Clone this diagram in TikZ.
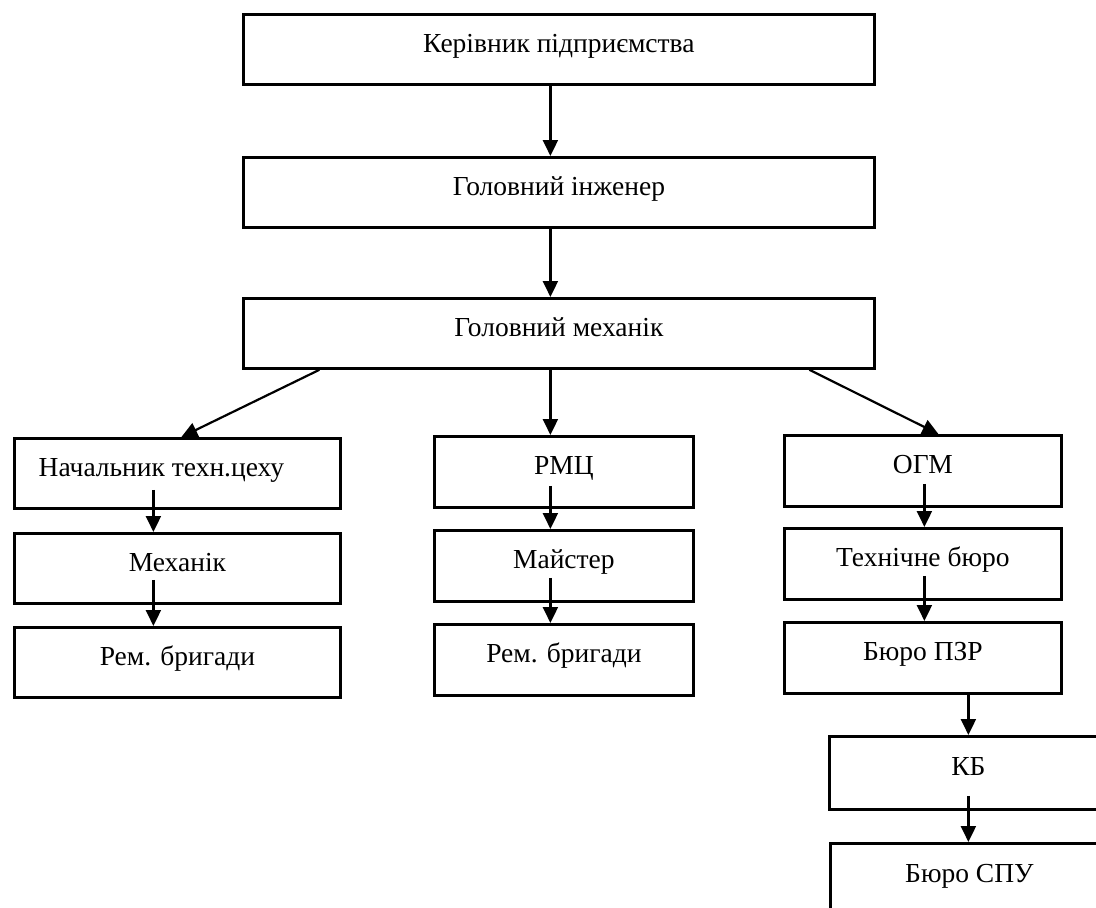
\documentclass[tikz,border=0pt]{standalone}
\usepackage{fontspec}
\setmainfont{Liberation Serif}
\usetikzlibrary{arrows.meta}
\begin{document}
\begin{tikzpicture}[x=1pt,y=-1pt,
  box/.style={draw=black,line width=2.8pt,rectangle,inner sep=0pt,anchor=north west,
    font=\fontsize{27.5}{30}\selectfont,text height=12pt,text depth=6pt},
  wide/.style={minimum width=631pt,minimum height=70pt},
  lcol/.style={minimum width=326pt,minimum height=70pt},
  mcol/.style={minimum width=259pt,minimum height=71pt},
  rcol/.style={minimum width=277pt,minimum height=71pt},
  arr/.style={line width=2.2pt,-{Triangle[length=16pt,width=15pt]}}]
\useasboundingbox (0,0) rectangle (1096,908);
\fill[white] (0,0) rectangle (1096,908);
\clip (0,0) rectangle (1096,908);
% top chain
\node[box,wide] (A) at (242,13) {Керівник підприємства};
\node[box,wide] (B) at (242,156) {Головний інженер};
\node[box,wide] (C) at (242,297) {Головний механік};
% left column
\node[box,lcol] (N1) at (13,437) {Начальник техн.цеху\hspace*{32pt}};
\node[box,lcol] (N2) at (13,532) {Механік};
\node[box,lcol] (N3) at (13,626) {Рем. бригади};
% middle column
\node[box,mcol] (M1) at (433,435) {РМЦ};
\node[box,mcol] (M2) at (433,529) {Майстер};
\node[box,mcol] (M3) at (433,623) {Рем. бригади};
% right column
\node[box,rcol] (R1) at (783,434) {ОГМ};
\node[box,rcol] (R2) at (783,527) {Технічне бюро};
\node[box,rcol] (R3) at (783,621) {Бюро ПЗР};
\node[box,minimum width=278pt,minimum height=73pt] (K) at (828,735) {КБ};
\node[box,minimum width=278pt,minimum height=73pt] (S) at (829,842) {Бюро СПУ};
% connectors
\draw[arr] ([xshift=-8.5pt]A.south) -- ([xshift=-8.5pt]B.north);
\draw[arr] ([xshift=-8.5pt]B.south) -- ([xshift=-8.5pt]C.north);
\draw[arr] ([xshift=-8.5pt]C.south) -- ([xshift=-13.5pt]M1.north);
\draw[arr] ([xshift=-239.5pt]C.south) -- ([xshift=4pt]N1.north);
\draw[arr] ([xshift=250.5pt]C.south) -- ([xshift=15.5pt]R1.north);
\draw[arr] ([xshift=-24pt,yshift=20pt]N1.south) -- ([xshift=-24pt]N2.north);
\draw[arr] ([xshift=-24pt,yshift=25pt]N2.south) -- ([xshift=-24pt]N3.north);
\draw[arr] ([xshift=-13.5pt,yshift=23pt]M1.south) -- ([xshift=-13.5pt]M2.north);
\draw[arr] ([xshift=-13.5pt,yshift=25pt]M2.south) -- ([xshift=-13.5pt]M3.north);
\draw[arr] ([xshift=1.5pt,yshift=24pt]R1.south) -- ([xshift=1.5pt]R2.north);
\draw[arr] ([xshift=1.5pt,yshift=25pt]R2.south) -- ([xshift=1.5pt]R3.north);
\draw[arr] ([xshift=45.5pt]R3.south) -- (K.north);
\draw[arr] ([yshift=15pt]K.south) -- (K.south |- S.north);
\end{tikzpicture}
\end{document}
